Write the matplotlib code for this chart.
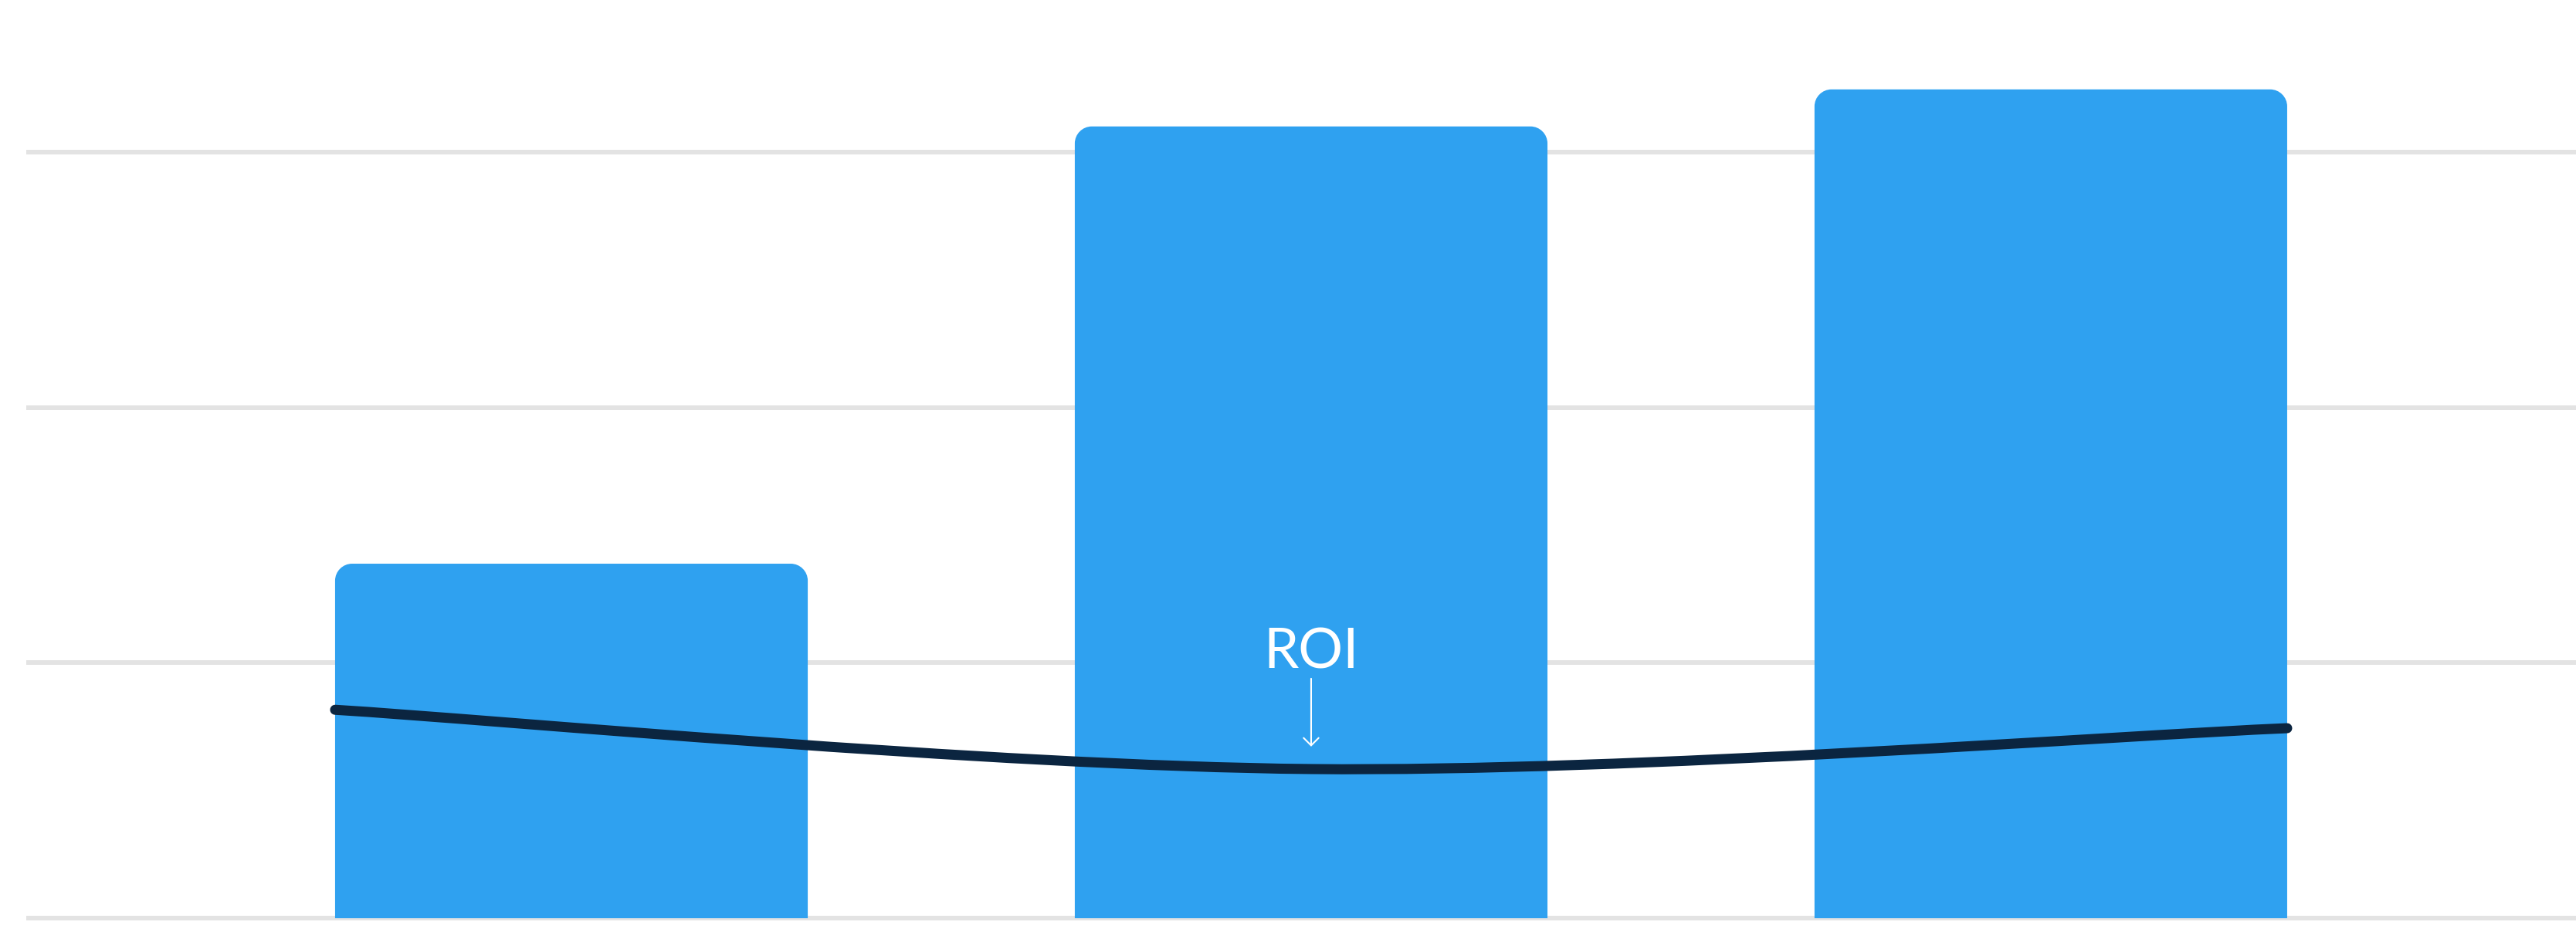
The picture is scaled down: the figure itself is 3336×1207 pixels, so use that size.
import numpy as np
import matplotlib
matplotlib.use("Agg")
import matplotlib.pyplot as plt
from matplotlib.path import Path
from matplotlib.patches import PathPatch

# data (one grid step = 10 units)
categories = ["A", "B", "C"]
bar_values = [13.88, 31.0, 32.45]
roi_values = [8.16, 5.84, 7.44]
grid_ticks = [0, 10, 20, 30]

W, H, DPI = 3337, 1207, 100
bar_color = "#2FA1F0"
line_color = "#0B2540"
grid_color = "#E3E3E3"

fig = plt.figure(figsize=(W / DPI, H / DPI), dpi=DPI)
ax = fig.add_axes([34 / W, 0, 1 - 34 / W, 1])
ax.set_xlim(-0.737, 2.711)
ax.set_ylim(-0.54, 35.95)
ax.axis("off")

for t in grid_ticks:
    ax.axhline(t, color=grid_color, lw=4.3, zorder=0)

x = np.arange(len(categories))
width = 0.639

# bars with rounded top corners, radius in pixels
fig.canvas.draw()
r = 22
k = 0.55
for xi, v in zip(x, bar_values):
    (x0, y0) = ax.transData.transform((xi - width / 2, 0))
    (x1, y1) = ax.transData.transform((xi + width / 2, v))
    verts = [(x0, y0), (x0, y1 - r),
             (x0, y1 - r + k * r), (x0 + r - k * r, y1), (x0 + r, y1),
             (x1 - r, y1),
             (x1 - r + k * r, y1), (x1, y1 - r + k * r), (x1, y1 - r),
             (x1, y0), (x0, y0)]
    codes = [Path.MOVETO, Path.LINETO,
             Path.CURVE4, Path.CURVE4, Path.CURVE4,
             Path.LINETO,
             Path.CURVE4, Path.CURVE4, Path.CURVE4,
             Path.LINETO, Path.CLOSEPOLY]
    ax.add_patch(PathPatch(Path(verts, codes), facecolor=bar_color,
                           edgecolor="none", transform=None, zorder=2))

# ROI line spans from first bar's left edge to last bar's right edge,
# drawn as a cardinal (Catmull-Rom) curve
pts = np.array([[x[0] - width / 2, roi_values[0]],
                [x[1], roi_values[1]],
                [x[2] + width / 2, roi_values[2]]])
ext = np.vstack([pts[0], pts, pts[-1]])
verts = [tuple(pts[0])]
codes = [Path.MOVETO]
for i in range(1, len(ext) - 2):
    p0, p1, p2, p3 = ext[i - 1], ext[i], ext[i + 1], ext[i + 2]
    c1 = p1 + (p2 - p0) / 6
    c2 = p2 - (p3 - p1) / 6
    verts += [tuple(c1), tuple(c2), tuple(p2)]
    codes += [Path.CURVE4] * 3
ax.add_patch(PathPatch(Path(verts, codes), facecolor="none",
                       edgecolor=line_color, lw=9.4, capstyle="round",
                       zorder=3))

# ROI label and arrow above line minimum
ax.annotate("", xy=(x[1], roi_values[1] + 0.88),
            xytext=(x[1], roi_values[1] + 3.54),
            arrowprops=dict(arrowstyle="->,head_length=0.5,head_width=0.5",
                            color="white", lw=1.5, mutation_scale=14,
                            shrinkA=0, shrinkB=0),
            zorder=4)
ax.text(x[1], roi_values[1] + 3.93, "ROI", ha="center", va="baseline",
        color="white", fontsize=52, family=["Lato", "DejaVu Sans"], zorder=4)

fig.savefig("out.png", dpi=DPI)
